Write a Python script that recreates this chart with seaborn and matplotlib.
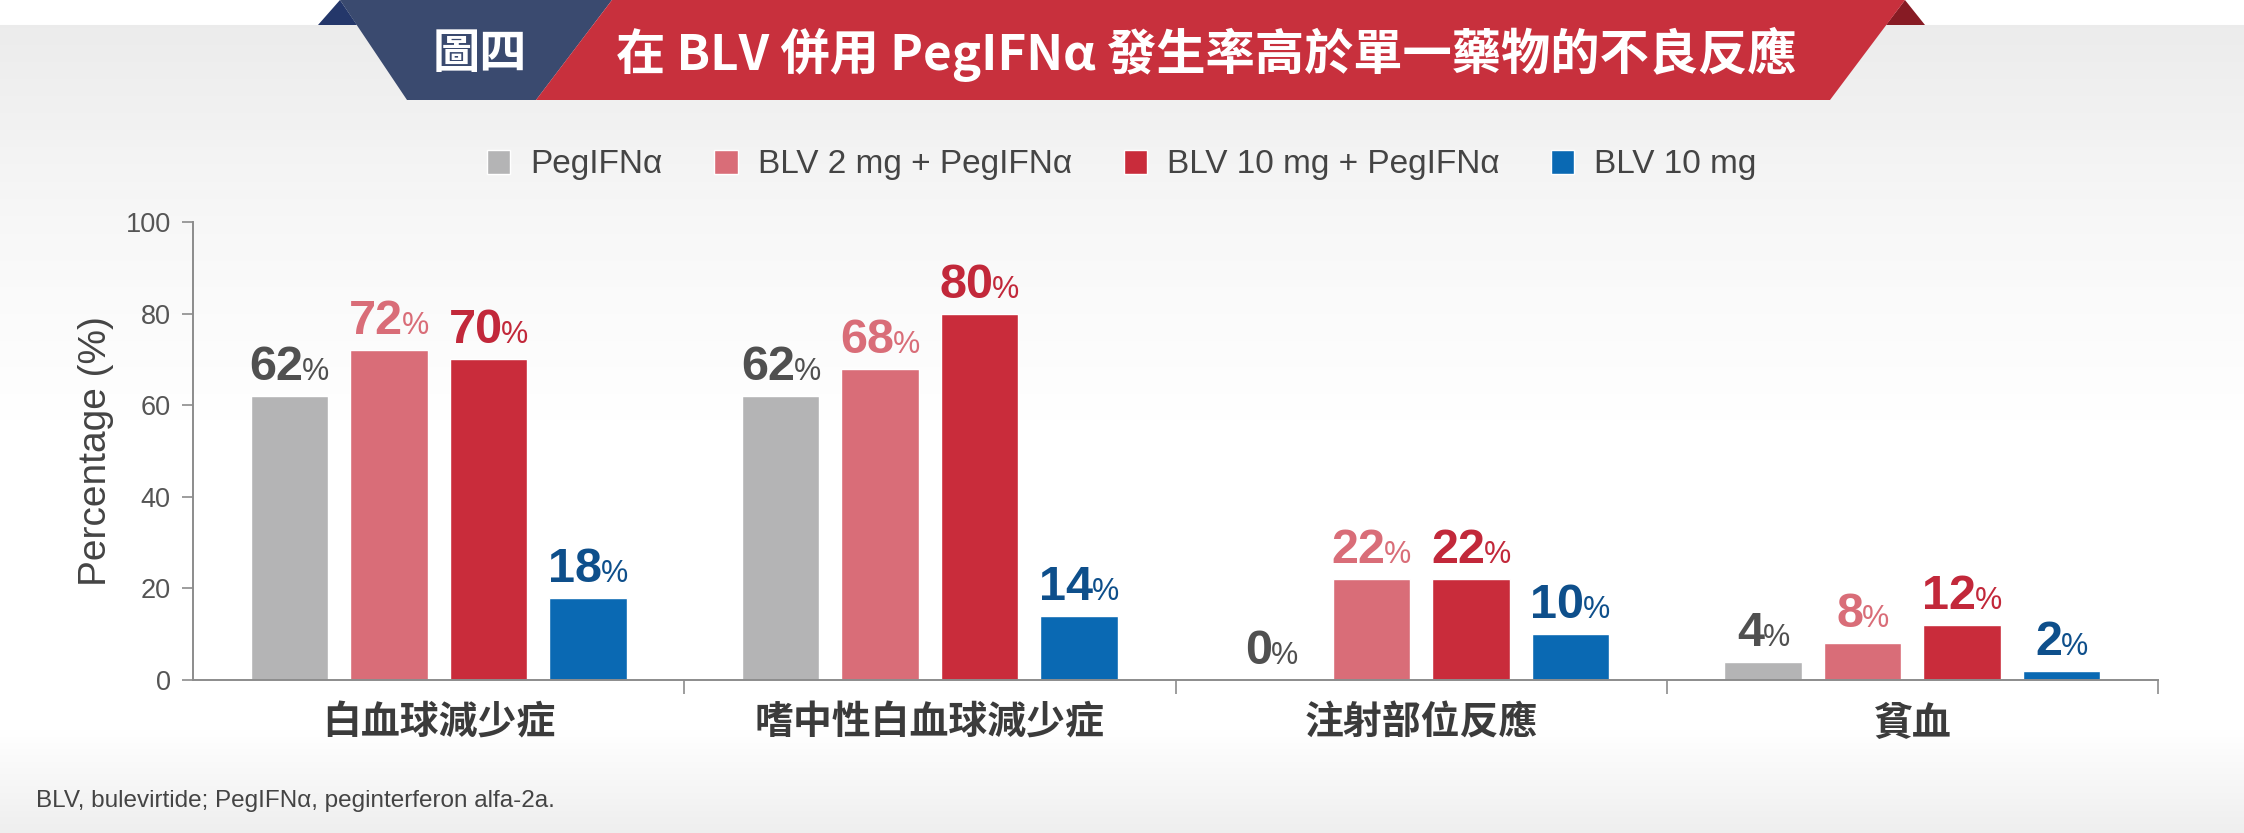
import numpy as np
import pandas as pd
import matplotlib
matplotlib.use("Agg")
import matplotlib.pyplot as plt
from matplotlib.patches import Polygon
from matplotlib.ticker import FixedLocator
import seaborn as sns

# ---------------- data ----------------
categories = ["白血球減少症", "嗜中性白血球減少症", "注射部位反應", "貧血"]
series_names = ["PegIFNα", "BLV 2 mg + PegIFNα", "BLV 10 mg + PegIFNα", "BLV 10 mg"]
peg_only = [62, 62, 0, 4]
blv2_peg = [72, 68, 22, 8]
blv10_peg = [70, 80, 22, 12]
blv10_only = [18, 14, 10, 2]
series_values = [peg_only, blv2_peg, blv10_peg, blv10_only]
y_ticks = [0, 20, 40, 60, 80, 100]

title_tag = "圖四"
title_text = "在 BLV 併用 PegIFNα 發生率高於單一藥物的不良反應"
y_label = "Percentage (%)"
footnote = "BLV, bulevirtide; PegIFNα, peginterferon alfa-2a."

bar_colors = ["#b4b4b5", "#d96d78", "#c92c3b", "#0a69b3"]
label_colors = ["#505050", "#d96d78", "#c2283a", "#0e4f8b"]

df = pd.DataFrame({
    "category": categories * len(series_names),
    "series": [s for s in series_names for _ in categories],
    "value": [v for vals in series_values for v in vals],
})

# ---------------- figure ----------------
W, H = 2244, 833
sns.set_theme(style="white")
plt.rcParams["font.family"] = ["Liberation Sans", "Noto Sans CJK TC", "DejaVu Sans"]
fig = plt.figure(figsize=(W / 100, H / 100), dpi=100)

# background gradient
bg_ax = fig.add_axes([0, 0, 1, 1], zorder=-10)
v = np.ones(H)
for y in range(H):
    if y < 25:
        v[y] = 1.0
    elif y < 230:
        v[y] = 0.925 + (0.972 - 0.925) * (y - 25) / 205
    elif y < 420:
        v[y] = 0.972 + (1.0 - 0.972) * (y - 230) / 190
    elif y < 730:
        v[y] = 1.0
    else:
        v[y] = 1.0 - (1.0 - 0.935) * (y - 730) / 103
img = np.repeat(v[:, None], 8, axis=1)
bg_ax.imshow(np.dstack([img, img, img]), aspect="auto", extent=[0, 1, 0, 1],
             interpolation="bilinear")
bg_ax.set_axis_off()

def fpoly(pts, color, z=5):
    p = Polygon([(x / W, 1 - y / H) for x, y in pts], closed=True,
                transform=fig.transFigure, facecolor=color, edgecolor="none", zorder=z)
    fig.add_artist(p)

# banner
fpoly([(318, 25), (340, 0), (357, 25)], "#24376a")
fpoly([(1886, 25), (1905, 0), (1925, 25)], "#871b24")
fpoly([(340, 0), (612, 0), (536, 100), (407, 100)], "#3a4a6f")
fpoly([(612, 0), (1905, 0), (1830, 100), (536, 100)], "#c8303d")
fig.text(480 / W, 1 - 54 / H, title_tag, ha="center", va="center", color="white",
         fontsize=34, fontweight="bold", family=["Noto Sans CJK TC"], zorder=6)
fig.text(1206 / W, 1 - 54 / H, title_text, ha="center", va="center", color="white",
         fontsize=35.5, fontweight="bold", family=["Noto Sans CJK TC", "DejaVu Sans"], zorder=6)

# main axes
left, right = 193 / W, 2158 / W
bottom, top = 1 - 680 / H, 1 - 222 / H
ax = fig.add_axes([left, bottom, right - left, top - bottom])
ax.patch.set_alpha(0)

sns.barplot(data=df, x="category", y="value", hue="series", palette=bar_colors,
            hue_order=series_names, order=categories, width=0.81, gap=0.22,
            saturation=1, errorbar=None, ax=ax)

ax.set_ylim(0, 100)
ax.set_xlim(-0.5, 3.5)
ax.set_yticks(y_ticks)
ax.set_yticklabels([str(t) for t in y_ticks])
ax.set_xlabel("")
ax.set_ylabel(y_label, fontsize=28, color="#444444", labelpad=8)

spine_c = "#8c8c8c"
for s in ["top", "right"]:
    ax.spines[s].set_visible(False)
for s in ["left", "bottom"]:
    ax.spines[s].set_color(spine_c)
    ax.spines[s].set_linewidth(1.4)

ax.tick_params(axis="y", which="major", direction="out", length=8, width=1.2,
               color=spine_c, labelsize=19.5, labelcolor="#555555", pad=8, left=True)
ax.xaxis.set_minor_locator(FixedLocator([0.5, 1.5, 2.5, 3.5]))
ax.tick_params(axis="x", which="major", length=0, pad=17, bottom=True)
ax.tick_params(axis="x", which="minor", direction="out", length=10, width=1.2,
               color=spine_c, bottom=True)
for lbl in ax.get_xticklabels():
    lbl.set_family(["Noto Sans CJK TC"])
    lbl.set_fontweight("bold")
    lbl.set_fontsize(28)
    lbl.set_color("#3b3b3b")

# value labels
NUM_FS, PCT_FS, OFF = 35, 22, 11.5
for ci, container in enumerate(ax.containers):
    for bar in container:
        x = bar.get_x() + bar.get_width() / 2
        h = bar.get_height()
        s = f"{int(round(h))}"
        nw = len(s) * 0.556 * NUM_FS
        pw = 0.889 * PCT_FS
        gap = -1.0
        lft = -(nw + gap + pw) / 2
        ax.annotate(s, (x, h), xytext=(lft + nw, OFF), textcoords="offset points",
                    ha="right", va="baseline", fontsize=NUM_FS, fontweight="bold",
                    color=label_colors[ci])
        ax.annotate("%", (x, h), xytext=(lft + nw + gap, OFF), textcoords="offset points",
                    ha="left", va="baseline", fontsize=PCT_FS, color=label_colors[ci])

# legend
handles, labels = ax.get_legend_handles_labels()
if ax.get_legend() is not None:
    ax.get_legend().remove()
fig.legend(handles, labels, loc="center", bbox_to_anchor=(0.5, 1 - 165 / H), ncol=4,
           frameon=False, fontsize=24, handlelength=0.7, handleheight=0.7,
           handletextpad=0.6, columnspacing=1.55, labelcolor="#444444")

fig.text(36 / W, 1 - 801 / H, footnote, ha="left", va="center", fontsize=17.5,
         color="#444444")

fig.savefig("out.png", dpi=100)
